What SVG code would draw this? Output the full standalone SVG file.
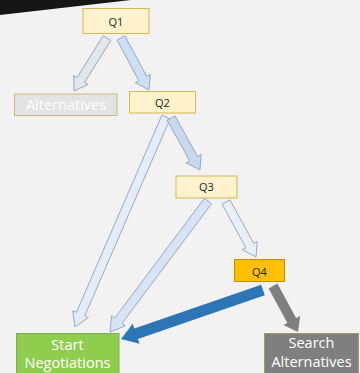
<svg xmlns="http://www.w3.org/2000/svg" width="360" height="373" viewBox="0 0 360 373">
<style>
.box{stroke-width:1}
.lbl{font-family:"Open Sans","Noto Sans",sans-serif;text-anchor:middle}
.q{font-size:11px;fill:#222}
.w{font-size:14.5px;fill:#ffffff}
.ar{stroke:#8497b0;stroke-width:0.8;stroke-linejoin:miter}
</style>
<rect width="360" height="373" fill="#f2f2f2"/>
<polygon points="0,0 131,0 0,15" fill="#161616"/>
<g id="connectors">
<polygon class="ar" fill="#e3e6ea" points="103.18,35.62 77.05,77.58 73.65,75.47 74,91 88.09,84.45 84.69,82.34 110.82,40.38"/>
<polygon class="ar" fill="#cfdff3" points="117.04,40.13 138.88,80.68 135.36,82.58 149,90 150.32,74.52 146.8,76.42 124.96,35.87"/>
<polygon class="ar" fill="#e4ecf7" points="161.87,115.21 76.44,312.36 72.77,310.77 75,327 88.37,317.53 84.7,315.94 170.13,118.79"/>
<polygon class="ar" fill="#c8d9ef" points="167.07,120.19 189.74,160.84 186.25,162.79 200,170 201.09,154.51 197.6,156.46 174.93,115.81"/>
<polygon class="ar" fill="#d8e4f4" points="204.4,198.3 114.79,318.09 111.58,315.7 110,332 125.2,325.88 121.99,323.49 211.6,203.7"/>
<polygon class="ar" fill="#e9eff7" points="222.05,204.16 245.82,247.75 242.31,249.66 256,257 257.23,241.52 253.72,243.43 229.95,199.84"/>
<polygon fill="#2e75b6" points="261.21,284.8 134.34,328.58 132.7,323.85 121,339 139.56,343.71 137.92,338.98 264.79,295.2"/>
<polygon fill="#7f7f7f" points="268.61,288.39 287.4,322.97 283.44,325.12 298,332 300.14,316.04 296.18,318.19 277.39,283.61"/>
</g>
<g id="q1">
<rect class="box" x="83" y="8.5" width="66" height="25" fill="#fff2cc" stroke="#d6b656"/>
<text class="lbl q" x="116" y="25.5">Q1</text>
</g>
<g id="alternatives">
<rect class="box" x="14.5" y="94" width="102.5" height="21.5" fill="#e3e3e3" stroke="#cbb976"/>
<text class="lbl w" x="66" y="110">Alternatives</text>
</g>
<g id="q2">
<rect class="box" x="129.5" y="91.5" width="66" height="21.5" fill="#fff2cc" stroke="#d6b656"/>
<text class="lbl q" x="162.5" y="106.5">Q2</text>
</g>
<g id="q3">
<rect class="box" x="176" y="176" width="61" height="22" fill="#fff2cc" stroke="#d6b656"/>
<text class="lbl q" x="206.5" y="191">Q3</text>
</g>
<g id="q4">
<rect class="box" x="234.5" y="259.5" width="50" height="22" fill="#ffc000" stroke="#bf9000"/>
<text class="lbl q" x="259.5" y="275.5">Q4</text>
</g>
<g id="start">
<rect class="box" x="16.5" y="333.5" width="102.5" height="45" fill="#8fcd4e" stroke="#7fae45"/>
<text class="lbl w" x="67.5" y="350">Start</text>
<text class="lbl w" x="67.5" y="368">Negotiations</text>
</g>
<g id="search">
<rect class="box" x="264.5" y="333.5" width="94" height="45" fill="#7f7f7f" stroke="#a09a6a"/>
<text class="lbl w" x="311.5" y="348" fill="#eeeeee">Search</text>
<text class="lbl w" x="311.5" y="367" fill="#eeeeee">Alternatives</text>
</g>
</svg>
